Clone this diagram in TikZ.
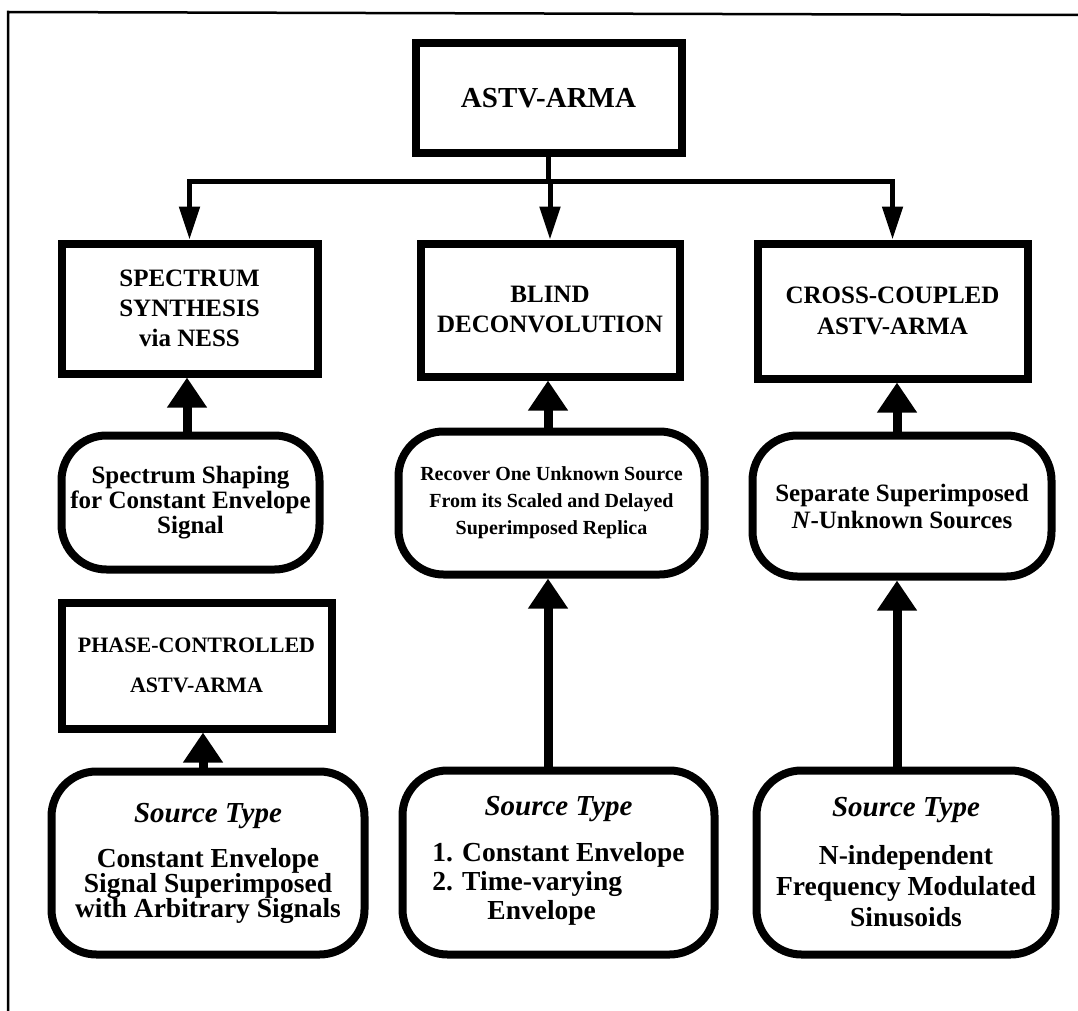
\documentclass[tikz,border=0pt]{standalone}
\usepackage{fontspec}
\setmainfont{Liberation Serif}
\usetikzlibrary{arrows.meta}
\begin{document}
\begin{tikzpicture}[x=1pt,y=-1pt,
  box/.style={draw,line width=8pt,inner sep=0pt,align=center},
  oval/.style={box,rounded corners=45pt},
  bus/.style={line width=5pt,line cap=rect},
  downarr/.style={line width=5pt,-{Triangle[length=33pt,width=20pt]}},
  uparr/.style={line width=9pt,-{Triangle[length=30pt,width=38pt]}},
  frame/.style={line width=2.5pt}]
\useasboundingbox (0,0) rectangle (1078,1011);
% frame
\coordinate (fTL) at (8,12);
\coordinate (fTR) at (1078,15);
\coordinate (fBL) at (8,1011);
\draw[frame] (fTR) -- (fTL) -- (fBL);
% boxes
\node[box,minimum width=266pt,minimum height=110pt,font=\bfseries\fontsize{29}{30}\selectfont] (top) at (548.5,98) {ASTV-ARMA};
\node[box,minimum width=256pt,minimum height=130pt,font=\bfseries\fontsize{25}{30}\selectfont] (spec) at (189.5,308.5) {SPECTRUM\\SYNTHESIS\\via NESS};
\node[box,minimum width=259pt,minimum height=133pt,font=\bfseries\fontsize{25}{30}\selectfont] (blind) at (550,310) {BLIND\\DECONVOLUTION};
\node[box,minimum width=270pt,minimum height=135pt,font=\bfseries\fontsize{25}{31}\selectfont] (cross) at (892.5,311) {CROSS-COUPLED\\ASTV-ARMA};
\node[box,minimum width=270pt,minimum height=126pt,font=\bfseries\fontsize{22}{40}\selectfont] (phase) at (196.5,665.5) {PHASE-CONTROLLED\\ASTV-ARMA};
% ovals
\node[oval,minimum width=258pt,minimum height=134pt,font={\bfseries\fontsize{25}{25}\selectfont\lineskiplimit-50pt}] (shape) at (190.5,502.5) {Spectrum Shaping\\for Constant Envelope\\Signal};
\node[oval,minimum width=306pt,minimum height=143pt,font=\bfseries\fontsize{20}{27}\selectfont] (rec) at (551.5,503) {Recover One Unknown Source\\From its Scaled and Delayed\\Superimposed Replica};
\node[oval,minimum width=299pt,minimum height=141pt,font=\bfseries\fontsize{25}{27}\selectfont] (sep) at (902,506) {Separate Superimposed\\\textit{N}-Unknown Sources};
\node[oval,minimum width=313pt,minimum height=183pt,font={\bfseries\fontsize{27.5}{25}\selectfont\lineskiplimit-50pt}] (bl) at (208,863) {{\fontsize{29}{30}\selectfont\itshape Source Type}\\[20pt]Constant Envelope\\Signal Superimposed\\with Arbitrary Signals};
\node[oval,minimum width=312pt,minimum height=184pt,font=\bfseries\fontsize{27.5}{29}\selectfont] (bm) at (558.5,862.5) {{\fontsize{29}{30}\selectfont\itshape Source Type}\\[17pt]\begin{tabular}[t]{@{}l@{}}1. Constant Envelope\tabularnewline 2. Time-varying\tabularnewline \hspace*{55pt}Envelope\end{tabular}};
\node[oval,minimum width=299pt,minimum height=184pt,font=\bfseries\fontsize{27.5}{31}\selectfont] (br) at (906,862.5) {{\fontsize{29}{30}\selectfont\itshape Source Type}\\[17pt]N-independent\\Frequency Modulated\\Sinusoids};
% top connectors
\coordinate (busY) at (0,182);
\draw[bus] (top.south) -- (top.south |- busY);
\draw[bus] (spec.north |- busY) -- (cross.north |- busY);
\draw[downarr] (spec.north |- busY) -- (spec.north);
\draw[downarr] (blind.north |- busY) -- (blind.north);
\draw[downarr] (cross.north |- busY) -- (cross.north);
% upward connectors
\coordinate (xL) at (187,0);
\coordinate (xP) at (203,0);
\coordinate (xM) at (548,0);
\coordinate (xR) at (897,0);
\draw[uparr] (xL |- shape.north) -- (xL |- spec.south);
\draw[uparr] (xP |- bl.north) -- (xP |- phase.south);
\draw[uparr] (xM |- rec.north) -- (xM |- blind.south);
\draw[uparr] (xM |- bm.north) -- (xM |- rec.south);
\draw[uparr] (xR |- sep.north) -- (xR |- cross.south);
\draw[uparr] (xR |- br.north) -- (xR |- sep.south);
\end{tikzpicture}
\end{document}
